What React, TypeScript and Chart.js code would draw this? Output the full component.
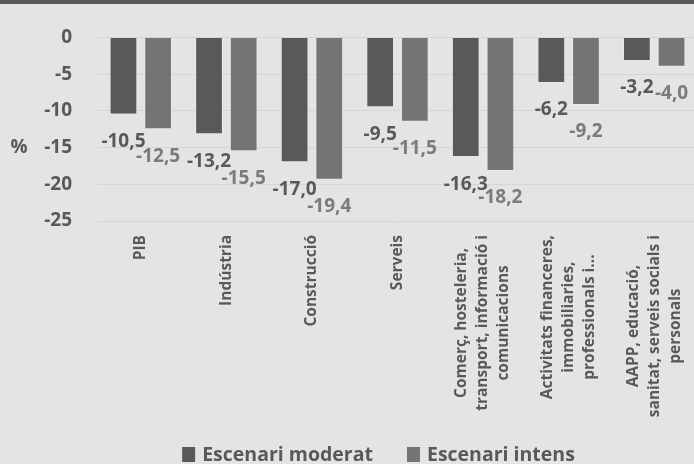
import React, { useEffect, useRef } from "react";
import { Chart, registerables } from "chart.js";

Chart.register(...registerables);

const categories: (string | string[])[] = [
  "PIB",
  "Indústria",
  "Construcció",
  "Serveis",
  ["Comerç, hosteleria,", "transport, informació i", "comunicacions"],
  ["Activitats financeres,", "immobiliaries,", "professionals i..."],
  ["AAPP, educació,", "sanitat, serveis socials i", "personals"],
];
const moderat = [-10.5, -13.2, -17.0, -9.5, -16.3, -6.2, -3.2];
const intens = [-12.5, -15.5, -19.4, -11.5, -18.2, -9.2, -4.0];
const seriesNames = ["Escenari moderat", "Escenari intens"];
const yMin = -25;
const yMax = 0;
const yStep = 5;
const yTitle = "%";

const FONT = "'Open Sans', 'Noto Sans', sans-serif";
const TEXT = "#595959";
const BAR_COLORS = ["#595959", "#747474"];
const LABEL_COLORS = ["#595959", "#7b7b7b"];

export default function App() {
  const ref = useRef<HTMLCanvasElement>(null);

  useEffect(() => {
    const canvas = ref.current;
    if (!canvas) return;

    const valueLabels = {
      id: "valueLabels",
      afterDatasetsDraw(chart: any) {
        const c = chart.ctx;
        c.save();
        c.font = `bold 19px ${FONT}`;
        c.textAlign = "center";
        c.textBaseline = "middle";
        chart.data.datasets.forEach((ds: any, di: number) => {
          const meta = chart.getDatasetMeta(di);
          c.fillStyle = LABEL_COLORS[di];
          meta.data.forEach((bar: any, i: number) => {
            const v = ds.data[i] as number;
            c.fillText(v.toFixed(1).replace(".", ","), bar.x, bar.y + 27);
          });
        });
        c.restore();
      },
    };

    const extras = {
      id: "extras",
      afterDraw(chart: any) {
        const c = chart.ctx;
        const xs = chart.scales.x;
        const area = chart.chartArea;
        c.save();
        // category labels, rotated, centered lines
        c.font = `bold 15.5px ${FONT}`;
        c.fillStyle = TEXT;
        c.textAlign = "center";
        c.textBaseline = "middle";
        const lh = 21;
        const topY = area.bottom + 14;
        categories.forEach((lab, i) => {
          const lines = Array.isArray(lab) ? lab : [lab];
          const w = Math.max(...lines.map((l) => c.measureText(l).width));
          const x = xs.getPixelForValue(i);
          c.save();
          c.translate(x, topY + w / 2);
          c.rotate(-Math.PI / 2);
          lines.forEach((l, j) => {
            c.fillText(l, 0, (j - (lines.length - 1) / 2) * lh);
          });
          c.restore();
        });
        // y axis title
        c.font = `bold 19px ${FONT}`;
        c.textAlign = "center";
        c.fillText(yTitle, 19, 148);
        // legend
        c.font = `bold 19.5px ${FONT}`;
        c.textAlign = "left";
        const box = 13;
        const gapBox = 7;
        const gapItem = 34;
        const widths = seriesNames.map((s) => c.measureText(s).width);
        const total =
          widths.reduce((a, b) => a + b, 0) +
          seriesNames.length * (box + gapBox) +
          gapItem * (seriesNames.length - 1);
        let x = 378.5 - total / 2;
        const cy = 454.5;
        seriesNames.forEach((s, k) => {
          c.fillStyle = BAR_COLORS[k];
          c.fillRect(x, cy - 7.5, box, 15);
          x += box + gapBox;
          c.fillStyle = TEXT;
          c.fillText(s, x, cy + 1);
          x += widths[k] + gapItem;
        });
        c.restore();
      },
    };

    const chart = new Chart(canvas, {
      type: "bar",
      data: {
        labels: categories.map((_, i) => String(i)),
        datasets: [
          {
            label: seriesNames[0],
            data: moderat,
            backgroundColor: BAR_COLORS[0],
            borderColor: "rgba(255,255,255,0.22)",
            borderWidth: 1,
            categoryPercentage: 0.81,
            barPercentage: 0.8,
          },
          {
            label: seriesNames[1],
            data: intens,
            backgroundColor: BAR_COLORS[1],
            borderColor: "rgba(255,255,255,0.22)",
            borderWidth: 1,
            categoryPercentage: 0.81,
            barPercentage: 0.8,
          },
        ],
      },
      options: {
        responsive: false,
        animation: false,
        layout: { padding: { top: 34, left: 0, right: 0, bottom: 0 } },
        plugins: {
          legend: { display: false },
          tooltip: { enabled: false },
        },
        scales: {
          x: {
            grid: { display: false },
            border: { display: false },
            ticks: { display: false },
            afterFit: (scale: any) => {
              scale.height = 243;
            },
          },
          y: {
            min: yMin,
            max: yMax,
            ticks: {
              stepSize: yStep,
              color: TEXT,
              font: { family: FONT, size: 19, weight: "bold" },
              padding: 26,
            },
            grid: { color: "#d5d5d5", lineWidth: 1, drawTicks: false },
            border: { display: false },
            afterFit: (scale: any) => {
              scale.width = 98;
            },
          },
        },
      },
      plugins: [valueLabels, extras],
    });

    return () => chart.destroy();
  }, []);

  return (
    <div
      style={{
        position: "fixed",
        left: 0,
        top: 0,
        width: 694,
        height: 464,
        overflow: "hidden",
        background: "#e4e4e4",
      }}
    >
      <div
        style={{
          position: "absolute",
          left: 0,
          top: 0,
          width: 694,
          height: 4,
          background: "#595959",
          zIndex: 1,
        }}
      />
      <canvas
        ref={ref}
        width={697}
        height={464}
        style={{ position: "absolute", left: 0, top: 0, width: 697, height: 464 }}
      />
    </div>
  );
}
